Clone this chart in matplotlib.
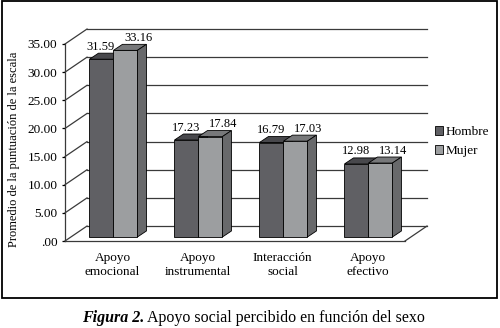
import matplotlib.pyplot as plt
from matplotlib.patches import Polygon, Rectangle, Patch

categories = ["Apoyo\nemocional", "Apoyo\ninstrumental", "Interacción\nsocial", "Apoyo\nefectivo"]
hombre = [31.59, 17.23, 16.79, 12.98]
mujer = [33.16, 17.84, 17.03, 13.14]
series_names = ["Hombre", "Mujer"]
yticks = [0, 5, 10, 15, 20, 25, 30, 35]
ytick_labels = [".00", "5.00", "10.00", "15.00", "20.00", "25.00", "30.00", "35.00"]

plt.rcParams['font.family'] = ['Liberation Serif', 'DejaVu Serif']

W, H = 500, 328
fig = plt.figure(figsize=(W / 100, H / 100), dpi=100)
ax = fig.add_axes([65 / W, 87 / H, 340 / W, 197 / H])
ax.set_xlim(-0.5, 3.5)
ax.set_ylim(0, 35)

# fake 3d: offsets in data units
wall_dx, wall_dy = 0.259, 2.66
front_dx, front_dy = 0.07, 0.71
bar_dx, bar_dy = 0.106, 1.07
bar_w = 0.282
grid_col = "#3a3a3a"

# back wall lines + diagonals from the axis
x0, x1 = -0.5, 3.5
for t in yticks:
    ax.plot([x0, x0 + wall_dx], [t, t + wall_dy], color=grid_col, lw=0.9, clip_on=False, zorder=1)
    ax.plot([x0 + wall_dx, x1 + wall_dx], [t + wall_dy, t + wall_dy], color=grid_col, lw=0.9,
            clip_on=False, zorder=1)
# floor right edge
ax.plot([x1, x1 + wall_dx], [0, wall_dy], color=grid_col, lw=0.9, clip_on=False, zorder=1)

# colours: front, top, side
styles = [("#606064", "#48484c", "#505054"),
          ("#9c9ea0", "#77787a", "#68696b")]
offsets = [-0.141, 0.141]
label_dx = [-0.01, 0.15]

for i in range(len(categories)):
    for s, vals in enumerate([hombre, mujer]):
        v = vals[i]
        front, top_c, side_c = styles[s]
        cx = i + offsets[s] + front_dx
        ax.bar(cx, v, width=bar_w, bottom=front_dy, color=front, edgecolor="black",
               lw=0.6, zorder=3, clip_on=False)
        l, r = cx - bar_w / 2, cx + bar_w / 2
        b, t = front_dy, front_dy + v
        ax.add_patch(Polygon([(l, t), (r, t), (r + bar_dx, t + bar_dy), (l + bar_dx, t + bar_dy)],
                             closed=True, facecolor=top_c, edgecolor="black", lw=0.6,
                             zorder=3, clip_on=False))
        ax.add_patch(Polygon([(r, b), (r, t), (r + bar_dx, t + bar_dy), (r + bar_dx, b + bar_dy)],
                             closed=True, facecolor=side_c, edgecolor="black", lw=0.6,
                             zorder=3, clip_on=False))
        ax.text(cx + label_dx[s], t + bar_dy + 1.15, f"{v:.2f}", ha="center", va="center",
                fontsize=9, zorder=4)

ax.set_yticks(yticks)
ax.set_yticklabels(ytick_labels, fontsize=9.5)
ax.set_xticks([i + 0.06 for i in range(len(categories))])
ax.set_xticklabels(categories, fontsize=9.5, linespacing=1.25)
ax.tick_params(axis="y", direction="out", length=2.5, width=0.9, pad=3, colors="black")
ax.tick_params(axis="x", length=0, pad=8)
for side in ["top", "right"]:
    ax.spines[side].set_visible(False)
ax.spines["left"].set_color(grid_col)
ax.spines["bottom"].set_color(grid_col)
ax.spines["left"].set_linewidth(0.9)
ax.spines["bottom"].set_linewidth(0.9)
ax.patch.set_visible(False)

fig.text(14 / W, 1 - 149 / H, "Promedio de la puntuación de la escala", rotation=90,
         ha="center", va="center", fontsize=9)

handles = [Patch(facecolor=styles[k][0], edgecolor="black", lw=0.6) for k in range(2)]
fig.legend(handles, series_names, loc="upper left", bbox_to_anchor=(435 / W, 1 - 126 / H),
           frameon=False, fontsize=9.5, handlelength=0.6, handleheight=0.6,
           handletextpad=0.2, labelspacing=0.55, borderpad=0, borderaxespad=0)

# outer frame
fig.add_artist(Rectangle((2 / W, (H - 298) / H), 495 / W, 297 / H, transform=fig.transFigure,
                         fill=False, edgecolor="black", lw=1.3))

fig.text(144 / W, 1 - 318 / H, "Figura 2.", ha="right", va="center", fontsize=11.5,
         fontweight="bold", fontstyle="italic")
fig.text(147 / W, 1 - 318 / H, "Apoyo social percibido en función del sexo", ha="left",
         va="center", fontsize=11.5)

fig.savefig("out.png", dpi=100)
